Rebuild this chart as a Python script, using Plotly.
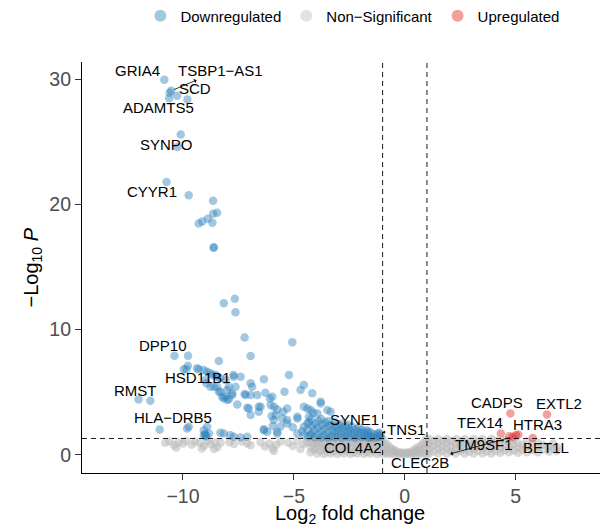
import plotly.graph_objects as go

# ---------------- data ----------------
# Non-significant genes, far-left scattered
grey_left_fc = [-10.8, -10.6, -10.4, -10.2, -10.0, -9.85, -9.6, -9.45, -9.25, -9.05,
                -8.9, -8.75, -8.55, -8.45, -8.3, -8.6, -9.15, -10.3, -7.9, -7.7,
                -7.35, -7.1, -6.95, -6.5, -6.3, -6.1, -5.95, -5.8, -5.6, -5.9,
                -5.25, -5.05, -4.85, -4.7, -4.55, -4.4]
grey_left_logp = [0.95, 1.05, 0.75, 1.0, 0.9, 1.1, 0.8, 1.05, 0.95, 0.7,
                  1.1, 0.85, 1.0, 0.6, 0.95, 0.45, 0.5, 0.55, 1.0, 0.85,
                  1.05, 0.9, 0.75, 1.0, 0.65, 0.9, 0.5, 0.8, 1.05, 0.3,
                  0.95, 0.7, 1.1, 0.45, 0.85, 1.0]

# Non-significant genes, dense band left of the fold-change cut
grey_core_fc = [
    -4.25, -4.22, -4.28,
    -4.10, -4.12, -4.08,
    -3.95, -3.97, -3.93,
    -3.80, -3.82, -3.78, -3.81,
    -3.65, -3.63, -3.67,
    -3.50, -3.52, -3.48, -3.51,
    -3.35, -3.37, -3.33, -3.36,
    -3.20, -3.18, -3.22,
    -3.05, -3.07, -3.03, -3.06,
    -2.90, -2.92, -2.88,
    -2.75, -2.73, -2.77, -2.74,
    -2.60, -2.62, -2.58, -2.61,
    -2.45, -2.47, -2.43,
    -2.30, -2.28, -2.32, -2.31,
    -2.15, -2.17, -2.13, -2.16,
    -2.00, -2.02, -1.98,
    -1.85, -1.83, -1.87, -1.86,
    -1.70, -1.72, -1.68, -1.71,
    -1.55, -1.53, -1.57, -1.56,
    -1.40, -1.42, -1.38, -1.41,
    -1.25, -1.27, -1.23, -1.26,
    -1.10, -1.12, -1.08, -1.11,
]
grey_core_logp = [
    0.20, 0.60, 1.00,
    0.40, 0.85, 1.20,
    0.10, 0.55, 0.95,
    0.30, 0.75, 1.10, 1.25,
    0.05, 0.50, 0.90,
    0.25, 0.65, 1.05, 1.25,
    0.10, 0.45, 0.85, 1.20,
    0.30, 0.70, 1.00,
    0.05, 0.50, 0.90, 1.25,
    0.25, 0.65, 1.10,
    0.10, 0.45, 0.80, 1.20,
    0.30, 0.70, 1.05, 1.25,
    0.05, 0.50, 0.90,
    0.20, 0.60, 1.00, 1.25,
    0.10, 0.40, 0.80, 1.15,
    0.30, 0.65, 1.05,
    0.05, 0.50, 0.90, 1.25,
    0.20, 0.60, 1.00, 1.20,
    0.10, 0.45, 0.80, 1.15,
    0.30, 0.70, 1.05, 1.25,
    0.05, 0.50, 0.90, 1.20,
    0.20, 0.60, 1.00, 1.25,
]

# Non-significant genes between the fold-change cuts
grey_cup_fc = [
    -0.95, -0.97, -0.93, -0.96,
    -0.83, -0.85, -0.81,
    -0.71, -0.73, -0.69,
    -0.59, -0.61,
    -0.47, -0.45, -0.49,
    -0.35, -0.37,
    -0.23, -0.21,
    -0.11, -0.13,
    0.01, 0.03,
    0.13, 0.11,
    0.25, 0.27,
    0.37, 0.35,
    0.49, 0.51, 0.47,
    0.61, 0.63, 0.59,
    0.73, 0.71, 0.75,
    0.85, 0.87, 0.83,
    0.97, 0.95, 0.99, 0.96,
]
grey_cup_logp = [
    0.05, 0.40, 0.80, 1.20,
    0.15, 0.50, 0.85,
    0.05, 0.35, 0.65,
    0.12, 0.45,
    0.03, 0.30, 0.40,
    0.12, 0.25,
    0.03, 0.18,
    0.10, 0.15,
    0.03, 0.15,
    0.10, 0.18,
    0.03, 0.20,
    0.12, 0.30,
    0.03, 0.25, 0.45,
    0.12, 0.40, 0.60,
    0.03, 0.35, 0.75,
    0.15, 0.55, 0.95,
    0.05, 0.45, 0.85, 1.25,
]

# Non-significant genes, right band
grey_right_fc = [
    1.10, 1.12, 1.08, 1.11,
    1.30, 1.28, 1.32,
    1.50, 1.52, 1.48, 1.51,
    1.70, 1.68, 1.72,
    1.90, 1.92, 1.88, 1.91,
    2.10, 2.08, 2.12,
    2.30, 2.32, 2.28, 2.31,
    2.50, 2.48, 2.52,
    2.70, 2.72, 2.68, 2.71,
    2.90, 2.88, 2.92,
    3.10, 3.12, 3.08, 3.11,
    3.30, 3.28, 3.32,
    3.50, 3.52, 3.48, 3.51,
    3.70, 3.68, 3.72,
    3.90, 3.92, 3.88, 3.91,
    4.10, 4.08, 4.12,
    4.30, 4.32, 4.28,
    4.50, 4.48, 4.52,
    4.70, 4.72, 4.68,
    4.90, 4.88, 4.92,
    5.10, 5.12, 5.08,
    5.30, 5.32,
    5.50, 5.48, 5.52,
    5.75, 5.73,
    6.00, 6.02, 5.98,
    6.25, 6.23,
    6.50, 6.52,
    6.70, 6.68,
    6.85, 6.87,
]
grey_right_logp = [
    0.10, 0.50, 0.90, 1.25,
    0.25, 0.70, 1.10,
    0.10, 0.50, 0.90, 1.25,
    0.30, 0.70, 1.10,
    0.10, 0.50, 0.95, 1.25,
    0.25, 0.65, 1.05,
    0.10, 0.50, 0.90, 1.25,
    0.30, 0.70, 1.10,
    0.10, 0.50, 0.95, 1.25,
    0.25, 0.65, 1.05,
    0.10, 0.50, 0.90, 1.25,
    0.30, 0.70, 1.10,
    0.10, 0.50, 0.95, 1.25,
    0.25, 0.65, 1.05,
    0.10, 0.50, 0.90, 1.25,
    0.30, 0.70, 1.10,
    0.15, 0.55, 0.95,
    0.35, 0.75, 1.15,
    0.20, 0.60, 1.00,
    0.35, 0.80, 1.20,
    0.15, 0.55, 0.95,
    0.40, 0.80,
    0.20, 0.60, 1.05,
    0.35, 0.85,
    0.20, 0.60, 1.00,
    0.40, 0.80,
    0.25, 0.65,
    0.45, 0.90,
    0.30, 0.60,
]

# Downregulated genes, top / scattered
down_top_fc = [-10.84, -10.53, -10.60, -10.26, -10.62, -9.80, -10.10, -10.25, -10.74, -9.74,
               -8.64, -8.64, -8.46, -8.88, -9.13, -9.29, -8.67, -8.61, -8.61, -8.16,
               -7.66, -7.63, -7.22, -5.07, -10.38, -9.77, -6.95, -8.38, -9.84, -9.96,
               -9.78]
down_top_logp = [29.98, 29.10, 28.95, 28.70, 28.50, 28.40, 25.60, 24.60, 21.80, 20.75,
                 20.30, 19.26, 19.34, 18.86, 18.64, 18.48, 18.54, 16.56, 16.56, 12.12,
                 12.47, 11.40, 9.37, 9.00, 7.92, 7.92, 7.90, 7.50, 6.83, 6.83,
                 7.12]

down_band_fc = [-9.36, -9.29, -9.06, -8.91, -8.76, -8.68, -8.53, -8.46, -8.31, -8.08,
                -8.98, -8.94, -8.76, -8.61, -8.46, -7.93, -8.38, -8.31, -8.00, -8.16,
                -8.23, -8.08, -8.00, -7.93, -7.78, -7.78, -7.71, -7.63, -7.72, -7.40,
                -6.95, -6.88, -7.18, -6.95, -6.35, -6.28, -6.08, -6.05, -6.50, -7.03,
                -7.55, -5.22, -5.42, -4.70, -4.55, -4.17, -3.79, -3.49, -5.30, -5.75,
                -7.22, -6.65, -5.97]
down_band_logp = [6.91, 6.83, 6.78, 6.64, 6.51, 6.38, 6.38, 6.24, 6.11, 5.97,
                  5.97, 5.71, 5.44, 5.44, 5.44, 5.44, 5.04, 5.04, 5.17, 4.50,
                  4.64, 4.64, 4.37, 4.45, 4.77, 4.91, 6.24, 5.44, 6.37, 6.24,
                  5.71, 5.44, 4.77, 4.77, 6.03, 4.96, 4.50, 3.97, 3.83, 3.70,
                  4.02, 6.38, 5.04, 5.17, 5.57, 4.91, 4.24, 3.57, 3.70, 3.62,
                  4.85, 4.77, 4.64]

down_mid_fc = [-7.10, -6.58, -5.90, -5.48, -6.58, -6.95, -5.82, -5.52, -5.30, -4.84,
               -4.55, -4.24, -3.94, -4.84, -4.32, -5.30, -5.90, -4.39, -6.35, -5.75,
               -4.62, -6.20, -5.75, -4.84, -4.55, -4.24, -4.55, -4.12, -4.39, -5.05,
               -5.60, -5.95, -6.00, -3.79, -3.34,
               -12.00, -11.47, -11.05, -9.74, -9.81, -8.91, -9.06, -8.83, -8.98, -9.06,
               -8.95, -9.00, -8.31, -8.16, -7.86, -7.71, -7.40, -7.10, -6.35]
down_mid_logp = [3.75, 3.83, 3.83, 3.43, 3.43, 3.17, 3.17, 2.90, 2.77, 2.90,
                 3.83, 3.57, 3.30, 3.03, 3.03, 2.50, 2.77, 2.50, 2.04, 1.83,
                 1.88, 1.83, 1.70, 1.70, 1.56, 1.56, 2.23, 3.35, 3.70, 2.20,
                 2.25, 2.30, 3.10, 4.10, 3.43,
                 4.42, 4.32, 2.02, 2.23, 2.10, 2.23, 1.96, 1.70, 1.56, 1.56,
                 1.45, 1.65, 1.75, 1.70, 1.56, 1.43, 1.38, 1.43, 1.96]

down_cluster_fc = [
    -4.35, -4.37, -4.33,
    -4.20, -4.18, -4.22,
    -4.05, -4.07, -4.03,
    -3.90, -3.92, -3.88,
    -3.75, -3.77, -3.73, -3.76,
    -3.60, -3.62, -3.58,
    -3.45, -3.47, -3.43, -3.46,
    -3.30, -3.28, -3.32,
    -3.15, -3.17, -3.13, -3.16,
    -3.00, -3.02, -2.98,
    -2.85, -2.87, -2.83, -2.86,
    -2.70, -2.72, -2.68,
    -2.55, -2.57, -2.53, -2.56,
    -2.40, -2.42, -2.38,
    -2.25, -2.27, -2.23,
    -2.10, -2.12, -2.08,
    -1.95, -1.97, -1.93,
    -1.80, -1.82,
    -1.65, -1.67, -1.63,
    -1.50, -1.52,
    -1.35, -1.37,
    -1.20, -1.22,
    -1.08, -1.10,
    -1.72, -1.55, -1.15,
]
down_cluster_logp = [
    1.45, 2.00, 2.60,
    1.70, 2.30, 2.85,
    1.40, 1.95, 2.50,
    1.60, 2.15, 2.70,
    1.40, 1.90, 2.40, 2.85,
    1.55, 2.05, 2.55,
    1.35, 1.80, 2.30, 2.70,
    1.50, 1.95, 2.40,
    1.40, 1.80, 2.20, 2.60,
    1.55, 1.95, 2.35,
    1.35, 1.75, 2.15, 2.50,
    1.50, 1.90, 2.30,
    1.40, 1.75, 2.10, 2.40,
    1.55, 1.90, 2.25,
    1.35, 1.70, 2.05,
    1.50, 1.85, 2.15,
    1.40, 1.70, 2.00,
    1.50, 1.80,
    1.35, 1.65, 1.85,
    1.45, 1.75,
    1.35, 1.60,
    1.45, 1.70,
    1.40, 1.60,
    1.95, 1.38, 1.75,
]

# Upregulated genes
up_fc = [4.76, 6.41, 4.33, 5.12, 4.71, 4.86, 5.01, 5.77]
up_logp = [3.30, 3.22, 1.70, 1.62, 1.48, 1.43, 1.56, 1.33]

# Labelled genes: value of the gene, and where its label text sits
label_genes = ["GRIA4", "TSBP1−AS1", "SCD", "ADAMTS5", "SYNPO", "CYYR1", "DPP10",
               "HSD11B1", "RMST", "HLA−DRB5", "SYNE1", "COL4A2", "TNS1", "CADPS",
               "EXTL2", "TEX14", "HTRA3", "TM9SF1", "BET1L", "CLEC2B"]
label_fc = [-10.84, -10.53, -10.26, -10.62, -10.10, -10.74, -10.38, -9.84, -11.47, -11.05,
            -1.72, -1.55, -1.15, 4.76, 6.41, 4.33, 5.12, 4.71, 5.77, 4.86]
label_logp = [29.98, 29.10, 28.70, 28.50, 25.60, 21.80, 7.92, 6.83, 4.32, 2.02,
              1.95, 1.38, 1.75, 3.30, 3.22, 1.70, 1.62, 1.48, 1.33, 1.43]
label_text_fc = [-12.05, -8.31, -9.44, -11.10, -10.74, -11.38, -10.88, -9.30, -12.14, -10.43,
                 -2.26, -2.35, 0.05, 4.15, 6.95, 3.39, 5.96, 3.57, 6.37, 0.68]
label_text_logp = [30.75, 30.75, 29.3, 27.8, 24.8, 21.05, 8.7, 6.15, 5.15, 3.0,
                   2.85, 0.6, 2.05, 4.2, 4.12, 2.55, 2.45, 0.78, 0.6, -0.6]
label_head_at_text = ["TSBP1−AS1", "CLEC2B"]

x_ticks = [-10, -5, 0, 5]
y_ticks = [0, 10, 20, 30]
fc_cut = 1.0
logp_cut = 1.30103

grey_fc = grey_left_fc + grey_core_fc + grey_cup_fc + grey_right_fc
grey_logp = grey_left_logp + grey_core_logp + grey_cup_logp + grey_right_logp
down_fc = down_top_fc + down_band_fc + down_mid_fc + down_cluster_fc
down_logp = down_top_logp + down_band_logp + down_mid_logp + down_cluster_logp
assert len(grey_fc) == len(grey_logp)
assert len(down_fc) == len(down_logp)

# ---------------- styling ----------------
FONT = "Liberation Sans, Arial, Helvetica, sans-serif"
C_DOWN = "rgba(49,130,189,0.45)"
C_NS = "rgba(185,185,185,0.55)"
C_UP = "rgba(227,26,28,0.42)"
MS = 8.5

fig = go.Figure()
fig.add_trace(go.Scatter(x=grey_fc, y=grey_logp, mode="markers", showlegend=False,
                         marker=dict(color=C_NS, size=MS, line=dict(width=0)), hoverinfo="skip"))
fig.add_trace(go.Scatter(x=down_fc, y=down_logp, mode="markers", showlegend=False,
                         marker=dict(color=C_DOWN, size=MS, line=dict(width=0)), hoverinfo="skip"))
fig.add_trace(go.Scatter(x=up_fc, y=up_logp, mode="markers", showlegend=False,
                         marker=dict(color=C_UP, size=MS, line=dict(width=0)), hoverinfo="skip"))
# legend keys
for name, col in [("Downregulated", C_DOWN), ("Non−Significant", "rgba(190,190,190,0.45)"), ("Upregulated", C_UP)]:
    fig.add_trace(go.Scatter(x=[None], y=[None], mode="markers", name=name,
                             marker=dict(color=col, size=12, line=dict(width=0))))

annotations = []
for g, fx, fy, tx, ty in zip(label_genes, label_fc, label_logp, label_text_fc, label_text_logp):
    annotations.append(dict(
        x=fx, y=fy, xref="x", yref="y", ax=tx, ay=ty, axref="x", ayref="y",
        text=g, showarrow=True, arrowhead=2, arrowsize=0.7, arrowwidth=0.8,
        arrowcolor="black", standoff=3,
        arrowside="start" if g in label_head_at_text else "end",
        font=dict(family=FONT, size=15, color="black")))

annotations.append(dict(text="Log<sub>2</sub> fold change", xref="paper", yref="paper",
                        x=0.517, y=-0.100, showarrow=False, xanchor="center", yanchor="middle",
                        font=dict(family=FONT, size=20, color="black")))
annotations.append(dict(text="−Log<sub>10</sub> <i>P</i>", xref="paper", yref="paper",
                        x=-0.0965, y=0.5, showarrow=False, xanchor="center", yanchor="middle",
                        textangle=-90, font=dict(family=FONT, size=20, color="black")))

dash = dict(color="black", width=0.9, dash="5px,4px")
shapes = [
    dict(type="line", xref="x", yref="paper", x0=-fc_cut, x1=-fc_cut, y0=0, y1=1, line=dash, layer="above"),
    dict(type="line", xref="x", yref="paper", x0=fc_cut, x1=fc_cut, y0=0, y1=1, line=dash, layer="above"),
    dict(type="line", xref="paper", yref="y", x0=0, x1=1, y0=logp_cut, y1=logp_cut, line=dash, layer="above"),
]

axis_common = dict(showgrid=False, zeroline=False, showline=True, linecolor="black", linewidth=1.1,
                   ticks="outside", ticklen=6, tickwidth=1.1, tickcolor="#333333", automargin=False,
                   tickfont=dict(family=FONT, size=19.5, color="#4d4d4d"))

# the page adds an 8 px body margin, so the figure is 8 px smaller and its margins compensate
fig.update_layout(
    width=601, height=518,
    margin=dict(l=74, r=9, t=54, b=53, autoexpand=False),
    paper_bgcolor="white", plot_bgcolor="white",
    font=dict(family=FONT),
    xaxis=dict(range=[-14.55, 8.8], tickvals=x_ticks, **axis_common),
    yaxis=dict(range=[-1.46, 31.4], tickvals=y_ticks, **axis_common),
    legend=dict(orientation="h", x=0.522, xanchor="center", y=1.112, yanchor="middle",
                font=dict(family=FONT, size=15, color="black"), bgcolor="rgba(0,0,0,0)"),
    annotations=annotations,
    shapes=shapes,
)

fig.write_html("out.html")
